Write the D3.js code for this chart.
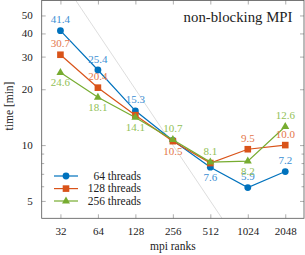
<!DOCTYPE html>
<html>
<head>
<meta charset="utf-8">
<script src="https://cdn.jsdelivr.net/npm/d3@7"></script>
<style>
  body { margin: 0; background: #fff; }
  svg text { font-family: "Liberation Serif", "DejaVu Serif", serif; }
</style>
</head>
<body>
<div class="chart"></div>
<script>
// values
var ranks = [32, 64, 128, 256, 512, 1024, 2048];
var t64 = [41.4, 25.4, 15.3, 10.6, 7.6, 5.9, 7.2];
var t128 = [30.7, 20.4, 14.5, 10.5, 8.0, 9.5, 10.0];
var t256 = [24.6, 18.1, 14.1, 10.7, 8.1, 8.2, 12.6];
// where the value label sits (null = not shown)
var lab64 = ["above", "above", "above", null, "below", "above", "above"];
var lab128 = ["above", "above", null, "below", null, "above", "above"];
var lab256 = ["below", "below", "below", "above", "above", "below", "above"];
var seriesNames = ["64 threads", "128 threads", "256 threads"];
var yTicks = [5, 10, 20, 30, 40, 50];
var yMinor = [6, 7, 8, 9];
var idealConst = 2560; // ideal scaling line, time = c / ranks

var width = 305, height = 255;
var pLeft = 41.7, pRight = 304, pTop = 0.5, pBottom = 218.3;

var svg = d3.select(".chart").append("svg")
  .attr("width", width)
  .attr("height", height);

var x = d3.scaleLog().base(2)
  .domain([Math.pow(2, 4.5), Math.pow(2, 11.5)])
  .range([pLeft, pRight]);
var y = d3.scaleLog()
  .domain([4.03, 60.2])
  .range([pBottom, pTop]);

svg.append("clipPath").attr("id", "clip")
  .append("rect")
  .attr("x", pLeft).attr("y", pTop)
  .attr("width", pRight - pLeft).attr("height", pBottom - pTop);

// ideal scaling line
var idealX = [Math.pow(2, 4.5), Math.pow(2, 11.5)];
svg.append("path")
  .attr("clip-path", "url(#clip)")
  .attr("d", d3.line().x(function(r) { return x(r); }).y(function(r) { return y(idealConst / r); })(idealX))
  .attr("fill", "none")
  .attr("stroke", "#bbb")
  .attr("stroke-width", 0.5);

// axes, ticks inward on all four sides
var tickCol = "#777";
function axisGroup(axis, tx, ty) {
  var g = svg.append("g").attr("transform", "translate(" + tx + "," + ty + ")").call(axis);
  g.attr("font-family", null);
  g.select(".domain").remove();
  g.selectAll("line").attr("stroke", tickCol).attr("stroke-width", 0.6);
  return g;
}
var gx = axisGroup(d3.axisBottom(x).tickValues(ranks).tickFormat(d3.format("d")).tickSizeInner(-4).tickPadding(9), 0, pBottom);
axisGroup(d3.axisTop(x).tickValues(ranks).tickFormat("").tickSizeInner(-4), 0, pTop);
var gy = axisGroup(d3.axisLeft(y).tickValues(yTicks).tickFormat(d3.format("d")).tickSizeInner(-4).tickPadding(9), pLeft, 0);
axisGroup(d3.axisRight(y).tickValues(yTicks).tickFormat("").tickSizeInner(-4), pRight, 0);
axisGroup(d3.axisLeft(y).tickValues(yMinor).tickFormat("").tickSizeInner(-2.5), pLeft, 0);
axisGroup(d3.axisRight(y).tickValues(yMinor).tickFormat("").tickSizeInner(-2.5), pRight, 0);

gx.selectAll("text").attr("font-size", 11).attr("fill", "#222");
gy.selectAll("text").attr("font-size", 11).attr("fill", "#222");

svg.append("rect")
  .attr("x", pLeft).attr("y", pTop)
  .attr("width", pRight - pLeft).attr("height", pBottom - pTop)
  .attr("fill", "none")
  .attr("stroke", "#555")
  .attr("stroke-width", 0.8);

// series
var colors = ["#0072BD", "#D95319", "#77AC30"];
var labelColors = ["#3b8fd4", "#e4774a", "#93bf57"];
var data = [t64, t128, t256];
var labels = [lab64, lab128, lab256];

function drawMarker(g, kind, cx, cy, color) {
  if (kind == 0) {
    g.append("circle").attr("cx", cx).attr("cy", cy).attr("r", 3.4).attr("fill", color);
  } else if (kind == 1) {
    g.append("rect").attr("x", cx - 3.3).attr("y", cy - 3.3).attr("width", 6.6).attr("height", 6.6).attr("fill", color);
  } else {
    g.append("path").attr("d", "M" + cx + "," + (cy - 4.6) + "L" + (cx + 4) + "," + (cy + 2.4) + "L" + (cx - 4) + "," + (cy + 2.4) + "Z").attr("fill", color);
  }
}

var line = d3.line()
  .x(function(d, i) { return x(ranks[i]); })
  .y(function(d) { return y(d); });

data.forEach(function(vals, s) {
  var g = svg.append("g");
  g.append("path")
    .attr("d", line(vals))
    .attr("fill", "none")
    .attr("stroke", colors[s])
    .attr("stroke-width", 1.2);
  vals.forEach(function(v, i) {
    drawMarker(g, s, x(ranks[i]), y(v), colors[s]);
  });
});

data.forEach(function(vals, s) {
  vals.forEach(function(v, i) {
    var pos = labels[s][i];
    if (!pos) return;
    svg.append("text")
      .attr("x", x(ranks[i]))
      .attr("y", y(v) + (pos == "above" ? -7.5 : 13.8))
      .attr("text-anchor", "middle")
      .attr("font-size", 11)
      .attr("fill", labelColors[s])
      .text(d3.format(".1f")(v));
  });
});

// title
svg.append("text")
  .attr("x", 292.5).attr("y", 21.5)
  .attr("text-anchor", "end")
  .attr("font-size", 14.8)
  .attr("fill", "#222")
  .text("non-blocking MPI");

// axis labels
svg.append("text")
  .attr("x", (pLeft + pRight) / 2).attr("y", 250)
  .attr("text-anchor", "middle")
  .attr("font-size", 11.5)
  .attr("fill", "#222")
  .text("mpi ranks");
svg.append("text")
  .attr("transform", "translate(13," + 106 + ") rotate(-90)")
  .attr("text-anchor", "middle")
  .attr("font-size", 11.5)
  .attr("fill", "#222")
  .text("time [min]");

// legend
var legY = [176, 188.6, 201];
seriesNames.forEach(function(name, s) {
  var g = svg.append("g");
  g.append("line")
    .attr("x1", 54).attr("x2", 78)
    .attr("y1", legY[s]).attr("y2", legY[s])
    .attr("stroke", colors[s]).attr("stroke-width", 1.2);
  drawMarker(g, s, 66, legY[s], colors[s]);
  g.append("text")
    .attr("x", 141).attr("y", legY[s] + 3.8)
    .attr("text-anchor", "end")
    .attr("font-size", 11.5)
    .attr("fill", "#222")
    .text(name);
});
</script>
</body>
</html>
